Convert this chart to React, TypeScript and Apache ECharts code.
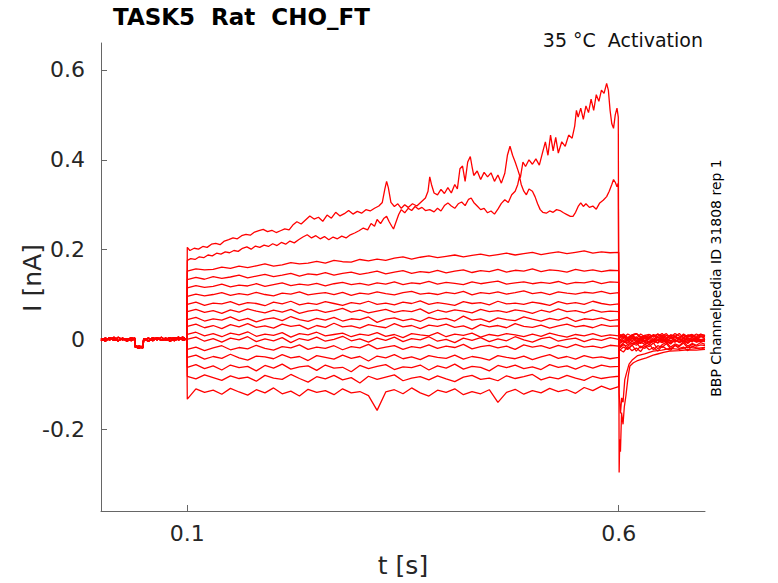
import React, { useEffect, useRef } from "react";
import * as echarts from "echarts";

const X_TICKS = [0.1, 0.6];
const Y_TICKS = [-0.2, 0, 0.2, 0.4, 0.6];
const TITLE = "TASK5  Rat  CHO_FT";
const SUBTITLE = "35 °C  Activation";
const SIDE_NOTE = "BBP Channelpedia ID 31808 rep 1";
const X_NAME = "t [s]";
const Y_NAME = "I [nA]";

// pre-step baseline (times in s, currents in pA)
const BASE_T = [0, 0.005, 0.01, 0.015, 0.02, 0.025, 0.03, 0.035, 0.0392, 0.0398, 0.044, 0.0485, 0.0495, 0.055, 0.06, 0.065, 0.07, 0.075, 0.08, 0.085, 0.09, 0.095, 0.0995];
const BASE_1 = [2, -4, 3, -2, 5, -1, 2, -3, 1, -16, -20, -14, 2, -3, 4, -1, 5, -2, 1, 4, -1, 3, 0];
const BASE_2 = [-3, 3, -1, 5, -3, 2, -2, 4, -1, -14, -17, -19, -1, 3, -3, 4, -1, 3, -4, 1, 5, -2, 1];
const BASE_3 = [1, -2, 4, 0, -3, 3, -4, 1, 3, -18, -15, -17, 1, -4, 1, 3, -2, 0, 4, -3, 2, 5, -1];

// step window 0.1 .. 0.6 s, evenly sampled (pA)
const T3 = [152, 157, 155, 156, 161, 158, 163, 160, 164, 168, 163, 166, 171, 168, 170, 174, 170, 176, 173, 172, 178, 175, 179, 176, 181, 184, 179, 183, 186, 182, 185, 188, 184, 187, 190, 186, 189, 192, 188, 191, 194, 189, 192, 195, 191, 194, 197, 192, 195, 193, 194];
const T4 = [133, 138, 134, 140, 136, 139, 143, 137, 141, 145, 140, 143, 147, 141, 146, 144, 149, 143, 147, 150, 145, 148, 152, 146, 150, 153, 147, 151, 149, 154, 148, 152, 155, 149, 153, 151, 156, 150, 154, 152, 157, 151, 155, 153, 150, 156, 152, 155, 151, 154, 153];
const T5 = [115, 120, 116, 118, 123, 117, 121, 119, 124, 118, 122, 126, 120, 123, 121, 125, 119, 124, 127, 122, 125, 121, 126, 123, 128, 122, 126, 124, 129, 123, 127, 125, 122, 128, 124, 127, 130, 123, 126, 128, 124, 127, 125, 129, 123, 127, 126, 130, 124, 128, 127];
const T6 = [96, 101, 97, 100, 104, 98, 102, 99, 105, 100, 97, 103, 101, 106, 99, 102, 104, 100, 105, 98, 103, 101, 106, 102, 99, 104, 107, 101, 103, 100, 105, 102, 107, 99, 104, 102, 106, 101, 104, 108, 102, 105, 100, 106, 103, 101, 105, 103, 107, 102, 104];
const T7 = [78, 83, 76, 81, 79, 84, 77, 82, 80, 75, 83, 79, 85, 77, 81, 78, 84, 80, 76, 82, 79, 85, 78, 81, 77, 83, 80, 86, 78, 82, 79, 76, 84, 80, 82, 77, 85, 79, 81, 78, 83, 80, 76, 84, 79, 82, 78, 85, 80, 77, 79];
const T8 = [62, 67, 60, 64, 58, 66, 61, 68, 63, 59, 65, 61, 67, 58, 63, 66, 60, 64, 69, 61, 65, 59, 63, 67, 60, 64, 62, 68, 58, 65, 61, 66, 63, 59, 67, 62, 64, 60, 66, 63, 58, 65, 61, 68, 62, 64, 59, 66, 61, 63, 62];
const T9 = [44, 49, 41, 46, 43, 50, 42, 47, 39, 45, 48, 42, 51, 44, 40, 47, 43, 49, 41, 46, 44, 50, 38, 45, 48, 42, 46, 40, 49, 44, 47, 41, 52, 43, 46, 39, 48, 44, 42, 50, 45, 41, 47, 43, 49, 40, 46, 44, 48, 42, 44];
const T10 = [29, 34, 26, 31, 24, 33, 28, 35, 27, 30, 25, 34, 29, 32, 23, 31, 27, 36, 28, 30, 25, 33, 29, 26, 35, 28, 31, 24, 32, 29, 34, 27, 30, 23, 33, 28, 31, 26, 35, 29, 27, 32, 25, 30, 34, 28, 31, 26, 33, 29, 30];
const T11 = [11, 16, 8, 13, 6, 14, 10, 17, 7, 12, 9, 15, 5, 13, 10, 16, 8, 11, 14, 6, 12, 9, 15, 7, 11, 4, 13, 10, 8, 15, 6, 12, 9, 14, 5, 11, 8, 13, 10, 6, 12, 7, 14, 9, 5, 11, 8, 13, 7, 10, 8];
const T12 = [0, 5, -4, 2, -6, 3, -1, 6, -5, 1, -3, 4, -7, 2, -2, 5, -4, 0, 7, -3, 1, -6, 3, -2, 5, -5, 2, -1, 6, -4, 0, -7, 3, -2, 4, -5, 1, -3, 6, -1, -6, 2, 5, -4, 0, 3, -5, 1, -2, 4, 0];
const T13 = [-22, -17, -25, -19, -14, -23, -18, -21, -13, -20, -24, -16, -19, -12, -22, -17, -20, -14, -23, -16, -19, -11, -21, -17, -14, -22, -16, -19, -12, -20, -15, -18, -11, -21, -16, -13, -19, -15, -22, -12, -17, -14, -20, -13, -18, -11, -17, -15, -19, -13, -15];
const T14 = [-40, -35, -44, -38, -42, -33, -41, -46, -37, -39, -43, -34, -41, -38, -47, -36, -40, -44, -35, -42, -38, -48, -37, -41, -34, -43, -39, -45, -36, -40, -42, -35, -44, -38, -41, -46, -36, -40, -43, -37, -45, -39, -34, -42, -38, -44, -36, -41, -39, -43, -40];
const T15 = [-62, -56, -65, -59, -68, -57, -63, -60, -70, -58, -64, -55, -66, -61, -59, -69, -57, -64, -62, -72, -58, -65, -60, -56, -67, -61, -63, -57, -68, -59, -64, -55, -66, -60, -62, -70, -58, -63, -57, -65, -61, -67, -56, -62, -59, -66, -58, -64, -57, -61, -60];
const T16 = [-82, -88, -79, -85, -91, -81, -87, -84, -93, -80, -86, -89, -78, -87, -95, -83, -88, -80, -90, -85, -97, -82, -89, -84, -79, -92, -86, -83, -90, -81, -88, -94, -84, -80, -89, -86, -92, -81, -87, -83, -78, -90, -84, -88, -80, -86, -91, -82, -87, -84, -82];
const T17 = [-133, -110, -118, -113, -122, -109, -117, -124, -112, -119, -108, -121, -115, -126, -111, -118, -114, -123, -110, -119, -116, -125, -158, -117, -112, -121, -108, -119, -126, -113, -118, -110, -123, -116, -121, -112, -140, -118, -111, -122, -114, -119, -109, -116, -112, -120, -107, -114, -104, -111, -105];

// tail window 0.6 .. 0.7 s, evenly sampled (pA)
const TAIL3 = [-20, -12, -15, -8, -13, -6, -11, -4, -9, -2, -7, -3, -8, -1, -6, -2, -7, 0, -5, -3, -4];
const TAIL4 = [-15, -8, -2, -10, -4, -9, -1, -7, -3, -8, 0, -5, -2, -6, 1, -4, -7, -1, -5, -2, -3];
const TAIL5 = [-10, -3, -8, 2, -5, -1, -7, 3, -4, -2, -6, 1, -3, -5, 2, -2, -4, 1, -3, 0, -2];
const TAIL6 = [-6, 2, -4, 4, -2, -6, 3, -1, -5, 5, 0, -3, 4, -2, -4, 2, -1, -3, 3, -2, 0];
const TAIL7 = [-3, 5, -1, 6, -2, 3, -4, 7, 0, -2, 5, -3, 2, 6, -1, 3, -2, 4, 1, -1, 2];
const TAIL8 = [2, 8, 0, 9, 3, -1, 7, 2, 10, -2, 6, 1, 8, 0, 5, 9, 2, 4, -1, 6, 3];
const TAIL9 = [5, 11, 3, 9, 1, 12, 6, 2, 10, 4, 8, 13, 3, 7, 1, 11, 5, 9, 2, 8, 6];
const TAIL10 = [8, 12, 4, 10, 13, 6, 2, 11, 7, 12, 3, 9, 5, 13, 8, 4, 10, 6, 12, 7, 9];
const TAIL11 = [10, 4, 12, 7, 13, 3, 9, 11, 5, 12, 8, 2, 10, 6, 13, 4, 9, 11, 7, 12, 8];
const TAIL12 = [12, 6, 2, 10, 13, 5, 9, 3, 11, 7, 13, 4, 10, 8, 2, 12, 6, 10, 4, 11, 9];
const TAIL13 = [0, -6, 3, -4, 6, -2, 4, -7, 1, 5, -3, 2, -5, 7, 0, -2, 4, -6, 3, -1, 2];
const TAIL14 = [-8, -2, -12, -4, -9, 1, -6, -11, -3, -8, 2, -5, -10, -1, -7, -3, -9, 0, -6, -4, -5];
const TAIL15 = [-18, -10, -22, -13, -7, -19, -11, -16, -8, -21, -12, -6, -17, -10, -14, -5, -15, -9, -13, -7, -11];
const TAIL16 = [-25, -17, -22, -12, -26, -15, -20, -10, -23, -14, -18, -9, -21, -13, -16, -8, -19, -11, -15, -12, -14];
const TAIL17 = [-22, -28, -16, -25, -19, -27, -14, -23, -18, -26, -15, -21, -24, -13, -20, -17, -25, -15, -19, -22, -18];

// the two largest traces, [t (s), I (nA)]
const A_STEP = [[0.1, 0.205], [0.103, 0.198], [0.108, 0.203], [0.113, 0.201], [0.118, 0.207], [0.123, 0.205], [0.128, 0.212], [0.133, 0.214], [0.138, 0.211], [0.143, 0.219], [0.148, 0.222], [0.153, 0.226], [0.158, 0.224], [0.163, 0.231], [0.168, 0.234], [0.173, 0.232], [0.178, 0.239], [0.183, 0.242], [0.188, 0.245], [0.193, 0.24], [0.198, 0.243], [0.203, 0.238], [0.208, 0.242], [0.213, 0.246], [0.218, 0.244], [0.223, 0.256], [0.227, 0.262], [0.232, 0.257], [0.237, 0.266], [0.242, 0.275], [0.247, 0.268], [0.252, 0.272], [0.257, 0.263], [0.262, 0.277], [0.267, 0.27], [0.272, 0.283], [0.277, 0.275], [0.282, 0.28], [0.287, 0.287], [0.292, 0.279], [0.297, 0.285], [0.302, 0.281], [0.307, 0.289], [0.312, 0.286], [0.317, 0.292], [0.322, 0.297], [0.326, 0.305], [0.329, 0.335], [0.331, 0.352], [0.333, 0.338], [0.336, 0.305], [0.34, 0.296], [0.344, 0.302], [0.348, 0.292], [0.352, 0.3], [0.356, 0.294], [0.361, 0.302], [0.366, 0.297], [0.371, 0.306], [0.376, 0.315], [0.379, 0.33], [0.381, 0.362], [0.383, 0.345], [0.386, 0.326], [0.39, 0.322], [0.394, 0.334], [0.398, 0.325], [0.402, 0.338], [0.406, 0.326], [0.41, 0.345], [0.413, 0.335], [0.416, 0.38], [0.419, 0.386], [0.422, 0.352], [0.425, 0.395], [0.428, 0.407], [0.43, 0.385], [0.432, 0.365], [0.436, 0.375], [0.44, 0.356], [0.444, 0.372], [0.448, 0.362], [0.452, 0.371], [0.456, 0.352], [0.46, 0.366], [0.464, 0.348], [0.468, 0.37], [0.471, 0.41], [0.474, 0.43], [0.477, 0.41], [0.48, 0.395], [0.483, 0.378], [0.486, 0.36], [0.489, 0.395], [0.492, 0.385], [0.496, 0.4], [0.5, 0.39], [0.504, 0.402], [0.508, 0.388], [0.512, 0.418], [0.515, 0.44], [0.518, 0.41], [0.521, 0.455], [0.524, 0.42], [0.527, 0.45], [0.53, 0.415], [0.534, 0.44], [0.538, 0.43], [0.542, 0.455], [0.546, 0.448], [0.549, 0.475], [0.551, 0.51], [0.553, 0.495], [0.556, 0.515], [0.559, 0.49], [0.562, 0.52], [0.565, 0.505], [0.568, 0.535], [0.571, 0.51], [0.574, 0.545], [0.577, 0.53], [0.58, 0.555], [0.583, 0.548], [0.586, 0.57], [0.588, 0.555], [0.59, 0.51], [0.592, 0.48], [0.594, 0.47], [0.596, 0.5], [0.598, 0.515], [0.5995, 0.495]];
const A_TAIL = [[0.6005, -0.296], [0.6012, -0.222], [0.602, -0.25], [0.6033, -0.163], [0.605, -0.189], [0.6065, -0.15], [0.6083, -0.126], [0.611, -0.081], [0.613, -0.059], [0.617, -0.052], [0.621, -0.048], [0.627, -0.044], [0.632, -0.041], [0.64, -0.035], [0.644, -0.033], [0.652, -0.029], [0.659, -0.026], [0.67, -0.025], [0.68, -0.023], [0.69, -0.024], [0.7, -0.022]];
const B_STEP = [[0.1, 0.176], [0.104, 0.18], [0.109, 0.178], [0.114, 0.184], [0.119, 0.182], [0.124, 0.188], [0.129, 0.186], [0.134, 0.192], [0.139, 0.19], [0.144, 0.195], [0.149, 0.193], [0.154, 0.198], [0.159, 0.196], [0.164, 0.203], [0.169, 0.206], [0.174, 0.201], [0.179, 0.208], [0.184, 0.205], [0.189, 0.21], [0.194, 0.207], [0.199, 0.213], [0.204, 0.209], [0.209, 0.216], [0.214, 0.212], [0.219, 0.219], [0.224, 0.215], [0.229, 0.222], [0.234, 0.228], [0.239, 0.233], [0.244, 0.226], [0.249, 0.231], [0.254, 0.224], [0.259, 0.229], [0.264, 0.222], [0.269, 0.228], [0.274, 0.224], [0.279, 0.23], [0.284, 0.226], [0.289, 0.233], [0.294, 0.237], [0.299, 0.242], [0.304, 0.248], [0.309, 0.244], [0.313, 0.258], [0.317, 0.252], [0.32, 0.267], [0.324, 0.258], [0.328, 0.27], [0.331, 0.274], [0.334, 0.262], [0.337, 0.252], [0.339, 0.246], [0.342, 0.262], [0.345, 0.278], [0.348, 0.289], [0.352, 0.282], [0.356, 0.292], [0.36, 0.287], [0.364, 0.296], [0.368, 0.29], [0.372, 0.294], [0.376, 0.287], [0.381, 0.289], [0.386, 0.284], [0.39, 0.292], [0.394, 0.286], [0.398, 0.298], [0.402, 0.304], [0.406, 0.297], [0.41, 0.292], [0.414, 0.302], [0.418, 0.306], [0.422, 0.298], [0.426, 0.312], [0.429, 0.315], [0.432, 0.305], [0.436, 0.297], [0.44, 0.289], [0.444, 0.292], [0.448, 0.282], [0.452, 0.286], [0.456, 0.279], [0.46, 0.29], [0.464, 0.303], [0.468, 0.311], [0.472, 0.305], [0.476, 0.322], [0.48, 0.33], [0.483, 0.345], [0.485, 0.363], [0.487, 0.345], [0.49, 0.33], [0.493, 0.322], [0.496, 0.335], [0.5, 0.33], [0.503, 0.318], [0.506, 0.302], [0.509, 0.289], [0.512, 0.283], [0.516, 0.281], [0.52, 0.286], [0.524, 0.283], [0.528, 0.289], [0.532, 0.287], [0.536, 0.282], [0.54, 0.278], [0.544, 0.274], [0.547, 0.274], [0.55, 0.283], [0.553, 0.296], [0.556, 0.304], [0.559, 0.296], [0.562, 0.302], [0.566, 0.294], [0.57, 0.297], [0.574, 0.29], [0.578, 0.304], [0.582, 0.31], [0.586, 0.318], [0.589, 0.33], [0.592, 0.345], [0.594, 0.356], [0.596, 0.35], [0.598, 0.34], [0.5995, 0.348]];
const B_TAIL = [[0.6005, -0.12], [0.602, -0.165], [0.6035, -0.13], [0.605, -0.14], [0.607, -0.09], [0.609, -0.075], [0.612, -0.055], [0.616, -0.045], [0.622, -0.036], [0.63, -0.032], [0.64, -0.026], [0.65, -0.024], [0.66, -0.02], [0.67, -0.022], [0.68, -0.017], [0.69, -0.02], [0.7, -0.018]];

const FLAT = [
  { step: T3, tail: TAIL3, base: BASE_1 },
  { step: T4, tail: TAIL4, base: BASE_2 },
  { step: T5, tail: TAIL5, base: BASE_3 },
  { step: T6, tail: TAIL6, base: BASE_1 },
  { step: T7, tail: TAIL7, base: BASE_2 },
  { step: T8, tail: TAIL8, base: BASE_3 },
  { step: T9, tail: TAIL9, base: BASE_1 },
  { step: T10, tail: TAIL10, base: BASE_2 },
  { step: T11, tail: TAIL11, base: BASE_3 },
  { step: T12, tail: TAIL12, base: BASE_1 },
  { step: T13, tail: TAIL13, base: BASE_2 },
  { step: T14, tail: TAIL14, base: BASE_3 },
  { step: T15, tail: TAIL15, base: BASE_1 },
  { step: T16, tail: TAIL16, base: BASE_2 },
  { step: T17, tail: TAIL17, base: BASE_3 },
];

const FONT = "DejaVu Sans";
const RED = "#ff0000";

function baseline(b: number[]) {
  return BASE_T.map((t, i) => [t, b[i] / 1000]);
}
function sampled(vals: number[], t0: number, t1: number) {
  const n = vals.length;
  return vals.map((v, i) => [t0 + ((t1 - t0) * i) / (n - 1), v / 1000]);
}

export default function App() {
  const ref = useRef<HTMLDivElement>(null);
  useEffect(() => {
    if (!ref.current) return;
    const chart = echarts.init(ref.current, undefined, { renderer: "svg" });
    const traces: number[][][] = [];
    traces.push([...baseline(BASE_2), ...A_STEP, ...A_TAIL]);
    traces.push([...baseline(BASE_3), ...B_STEP, ...B_TAIL]);
    FLAT.forEach((f) => {
      traces.push([...baseline(f.base), ...sampled(f.step, 0.1, 0.6), ...sampled(f.tail, 0.6005, 0.7)]);
    });
    const series = traces.map((d) => ({
      type: "line",
      data: d,
      showSymbol: false,
      symbol: "none",
      silent: true,
      clip: true,
      lineStyle: { color: RED, width: 1.3 },
    }));
    chart.setOption({
      animation: false,
      backgroundColor: "#ffffff",
      grid: { left: 101, right: 73, top: 43, bottom: 71, containLabel: false },
      xAxis: {
        type: "value",
        min: 0,
        max: 0.7,
        name: X_NAME,
        nameLocation: "middle",
        nameGap: 42,
        nameTextStyle: { fontFamily: FONT, fontSize: 25, color: "#262626" },
        axisLine: { show: true, onZero: false, lineStyle: { color: "#666", width: 1 } },
        axisTick: { show: true, inside: true, length: 6, customValues: X_TICKS, lineStyle: { color: "#666" } },
        axisLabel: { customValues: X_TICKS, fontFamily: FONT, fontSize: 22, color: "#262626", margin: 11, formatter: (v: number) => String(v) },
        splitLine: { show: false },
      },
      yAxis: {
        type: "value",
        min: -0.382,
        max: 0.66,
        axisLine: { show: true, onZero: false, lineStyle: { color: "#666", width: 1 } },
        axisTick: { show: true, inside: true, length: 6, customValues: Y_TICKS, lineStyle: { color: "#666" } },
        axisLabel: { customValues: Y_TICKS, fontFamily: FONT, fontSize: 22, color: "#262626", margin: 16, formatter: (v: number) => String(Math.round(v * 10) / 10) },
        splitLine: { show: false },
      },
      graphic: [
        {
          type: "text",
          left: 113,
          top: 5,
          style: { text: TITLE, fontFamily: FONT, fontSize: 23, fontWeight: "bold", fill: "#000" },
        },
        {
          type: "text",
          x: 703,
          y: 40,
          style: { text: SUBTITLE, fontFamily: FONT, fontSize: 19, fill: "#111", align: "right", verticalAlign: "middle" },
        },
        {
          type: "text",
          x: 32,
          y: 278,
          rotation: Math.PI / 2,
          style: { text: Y_NAME, fontFamily: FONT, fontSize: 25, fill: "#262626", align: "center", verticalAlign: "middle" },
        },
        {
          type: "text",
          x: 716,
          y: 278,
          rotation: Math.PI / 2,
          style: { text: SIDE_NOTE, fontFamily: FONT, fontSize: 14, fill: "#000", align: "center", verticalAlign: "middle" },
        },
      ],
      series,
    });
    return () => chart.dispose();
  }, []);
  return <div ref={ref} style={{ position: "fixed", left: 0, top: 0, width: 778, height: 583, background: "#fff" }} />;
}
